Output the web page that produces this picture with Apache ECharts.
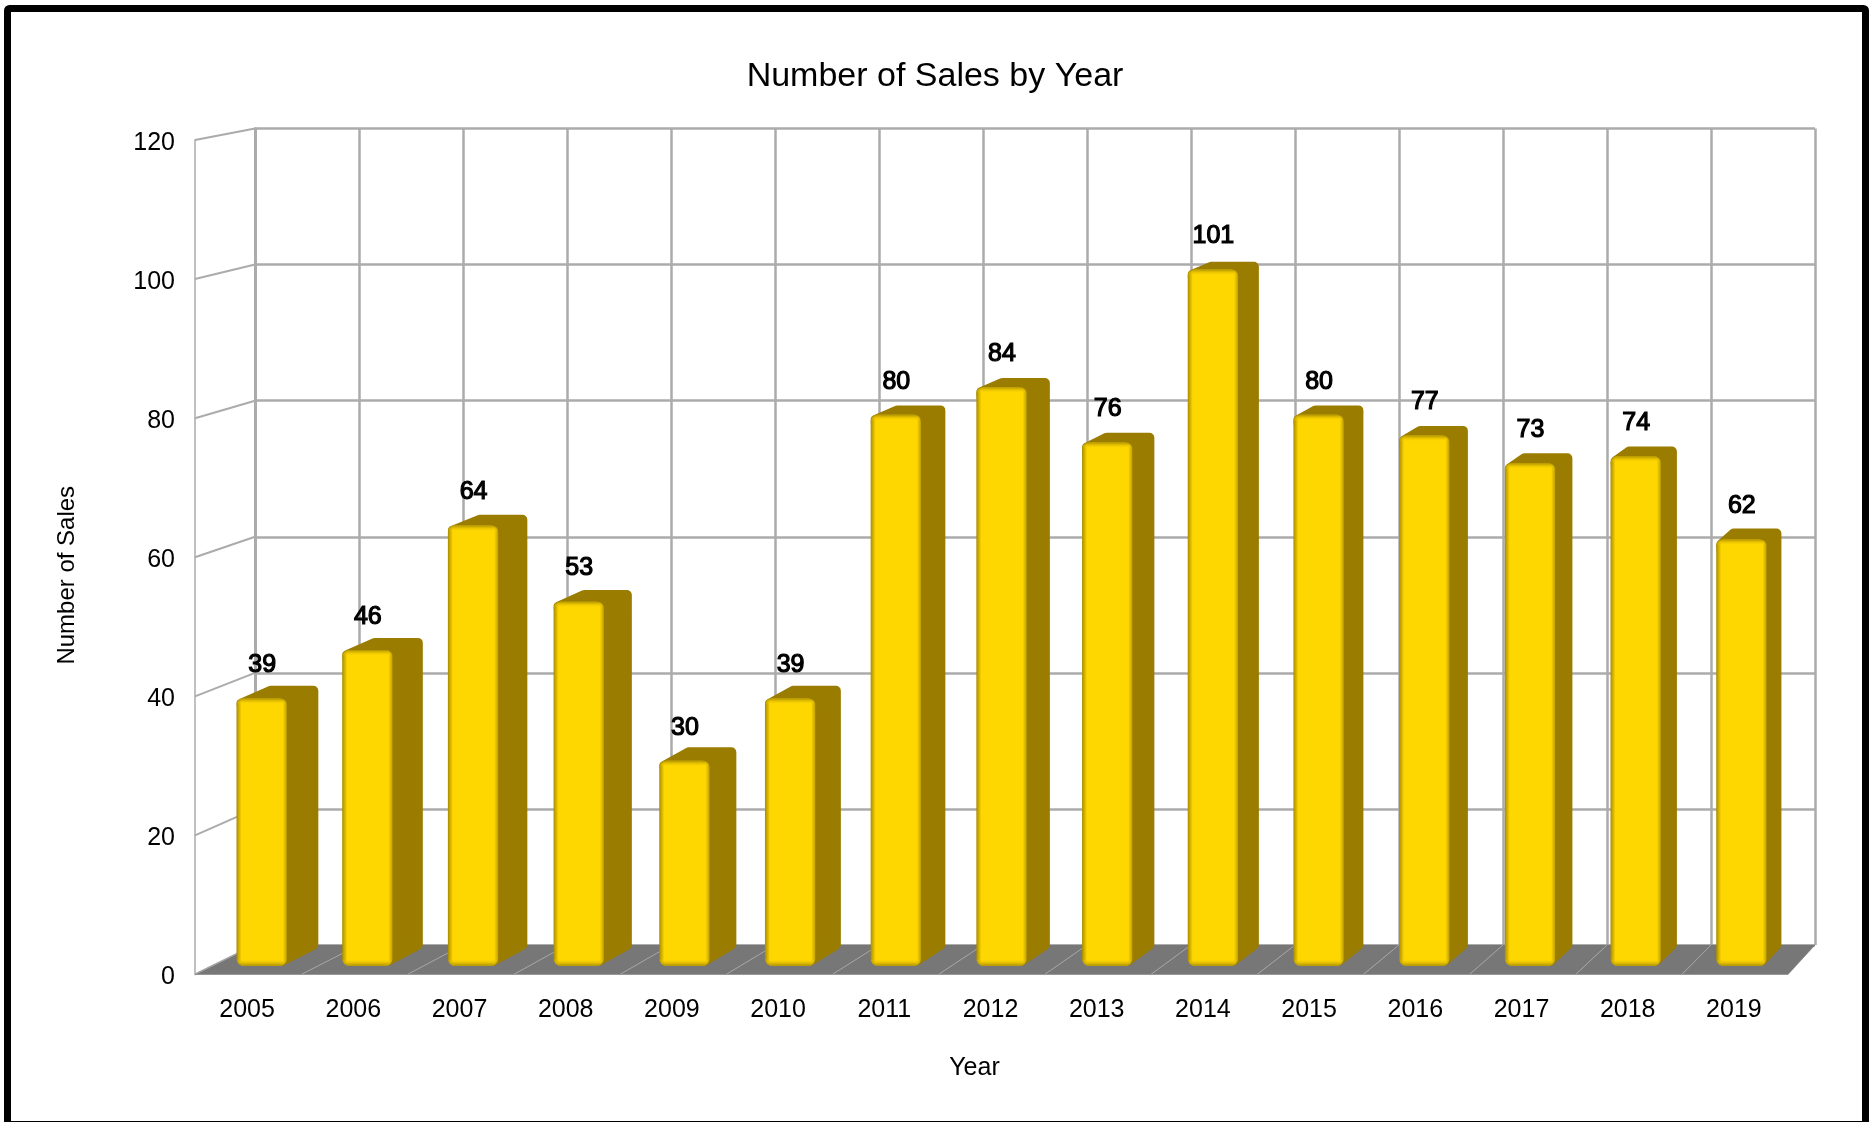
<!DOCTYPE html>
<html><head><meta charset="utf-8">
<style>html,body{margin:0;padding:0;background:#fff}#c{width:1869px;height:1122px}</style>
<script src="https://cdn.jsdelivr.net/npm/echarts@6/dist/echarts.min.js"></script>
</head><body><div id="c"></div>
<script>
const years = ['2005','2006','2007','2008','2009','2010','2011','2012','2013','2014','2015','2016','2017','2018','2019'];
const sales = [39,46,64,53,30,39,80,84,76,101,80,77,73,74,62];
const yTicks = [0,20,40,60,80,100,120];
const chartTitle = 'Number of Sales by Year';
const xName = 'Year';
const yName = 'Number of Sales';

const FONT = '"Liberation Sans", Arial, sans-serif';
const GRID_COLOR = '#ababab';
const DEPTH_NEAR = 0.23, DEPTH_FAR = 0.77, HALF_BAR = 0.238;
const TOP_INSET = 0.7, BOTTOM_INSET = 2;

const chart = echarts.init(document.getElementById('c'), null, {renderer:'canvas'});

function project(i, off, v, d){
  const f = a => chart.convertToPixel({xAxisIndex:0,yAxisIndex:0}, a);
  const b = a => chart.convertToPixel({xAxisIndex:1,yAxisIndex:1}, a);
  const f0 = f([i,v]), b0 = b([i,v]);
  const bandF = f([1,0])[0]-f([0,0])[0], bandB = b([1,0])[0]-b([0,0])[0];
  const fx = f0[0]+off*bandF, bx = b0[0]+off*bandB;
  return [fx+(bx-fx)*d, f0[1]+(b0[1]-f0[1])*d];
}
const shift = (p,dx,dy) => [p[0]+dx,p[1]+dy];
const grad = (x2,y2,stops) => ({type:'linear',x:0,y:0,x2,y2,colorStops:stops.map(s=>({offset:s[0],color:s[1]}))});

function renderFloor(params, api){
  const i = api.value(0);
  return {type:'polygon', shape:{points:[
      project(i,-0.5,0,0), project(i,0.5,0,0), project(i,0.5,0,1), project(i,-0.5,0,1)]},
    style:{fill:'#777777', stroke:'#777777', lineWidth:0.5}};
}
function renderFloorLine(params, api){
  const i = api.value(0);
  const a = project(i,-0.5,0,0), b = project(i,-0.5,0,1);
  return {type:'line', shape:{x1:a[0],y1:a[1],x2:b[0],y2:b[1]}, style:{stroke:'#a6a6a6', lineWidth:1}};
}
function renderSideWall(params, api){
  const v = api.value(1);
  const a = project(0,-0.5,v,0), b = project(0,-0.5,v,1);
  return {type:'line', shape:{x1:a[0],y1:a[1],x2:b[0],y2:b[1]}, style:{stroke:GRID_COLOR, lineWidth:2}};
}
function renderBar(params, api){
  const i = api.value(0), v = api.value(1);
  const nlt = shift(project(i,-HALF_BAR,v,DEPTH_NEAR),0,TOP_INSET), nrt = shift(project(i,HALF_BAR,v,DEPTH_NEAR),0,TOP_INSET);
  const nrb = shift(project(i,HALF_BAR,0,DEPTH_NEAR),0,-BOTTOM_INSET), nlb = shift(project(i,-HALF_BAR,0,DEPTH_NEAR),0,-BOTTOM_INSET);
  const flt = shift(project(i,-HALF_BAR,v,DEPTH_FAR),0,TOP_INSET), frt = shift(project(i,HALF_BAR,v,DEPTH_FAR),0,TOP_INSET);
  const frb = shift(project(i,HALF_BAR,0,DEPTH_FAR),0,-BOTTOM_INSET);
  const dark = '#9a7c00';
  const w = nrt[0]-nlt[0], h = nlb[1]-nlt[1];
  return {type:'group', children:[
    {type:'polygon', shape:{points:[shift(nlt,5,5),shift(flt,2,5),shift(frt,-5,5),shift(frb,-5,-5),shift(nrb,-5,-5)]},
      style:{fill:dark, stroke:dark, lineWidth:10, lineJoin:'round'}},
    {type:'rect', shape:{x:nlt[0],y:nlt[1],width:w,height:h,r:7},
      style:{fill:grad(1,0,[[0,'#a88c00'],[0.1,'#ffd700'],[0.92,'#ffd700'],[1,'#bfa000']])}},
    {type:'rect', shape:{x:nlt[0],y:nlt[1],width:w,height:6,r:[7,7,0,0]},
      style:{fill:grad(0,1,[[0,'rgba(168,140,0,0.9)'],[1,'rgba(255,215,0,0)']])}},
    {type:'rect', shape:{x:nlt[0],y:nlb[1]-7,width:w,height:7,r:[0,0,7,7]},
      style:{fill:grad(0,1,[[0,'rgba(255,215,0,0)'],[1,'rgba(168,140,0,0.95)']])}},
    {type:'text', style:{x:(nlt[0]+nrt[0])/2+0.5, y:nlt[1]-33.2, text:String(v), align:'center', verticalAlign:'middle',
      font:'25px '+FONT, fill:'#000', stroke:'#000', lineWidth:1.2,
      shadowColor:'rgba(0,0,0,0.4)', shadowOffsetX:1, shadowOffsetY:1, shadowBlur:1}}
  ]};
}

const base = {type:'custom', xAxisIndex:0, yAxisIndex:0, clip:false, silent:true, animation:false};
chart.setOption({
  animation:false,
  backgroundColor:'#ffffff',
  title:{text:chartTitle, left:930, top:72, textAlign:'center', textVerticalAlign:'middle',
    textStyle:{fontFamily:FONT,fontSize:34,fontWeight:'normal',color:'#000'}},
  graphic:[{type:'rect', z:100, silent:true,
    shape:{x:7.5,y:8.5,width:1858,height:1116,r:2},
    style:{fill:'none',stroke:'#000',lineWidth:7}}],
  grid:[
    {left:195, top:140, width:1593, height:834.5, containLabel:false},
    {left:255, top:128.5, width:1560, height:816.5, containLabel:false}
  ],
  xAxis:[
    {type:'category', gridIndex:0, data:years, boundaryGap:true,
     axisLine:{show:false}, axisTick:{show:false}, splitLine:{show:false},
     axisLabel:{interval:0, margin:23, padding:[0,2,0,0], fontFamily:FONT, fontSize:25, color:'#000'},
     name:xName, nameLocation:'middle', nameGap:81,
     nameTextStyle:{fontFamily:FONT,fontSize:25,color:'#000',padding:[0,34,0,0]}},
    {type:'category', gridIndex:1, data:years, boundaryGap:true,
     axisLine:{show:false}, axisTick:{show:false}, axisLabel:{show:false},
     splitLine:{show:true, interval:0, lineStyle:{color:GRID_COLOR,width:2.5}}}
  ],
  yAxis:[
    {type:'value', gridIndex:0, min:0, max:120, interval:20,
     axisLine:{show:true,lineStyle:{color:GRID_COLOR,width:1.5}}, axisTick:{show:false}, splitLine:{show:false},
     axisLabel:{margin:20, verticalAlign:'top', lineHeight:6, fontFamily:FONT, fontSize:25, color:'#000'},
     name:yName, nameLocation:'middle', nameGap:116, nameRotate:90,
     nameTextStyle:{fontFamily:FONT,fontSize:24,color:'#000',padding:[0,36,0,0]}},
    {type:'value', gridIndex:1, min:0, max:120, interval:20,
     axisLine:{show:true,lineStyle:{color:GRID_COLOR,width:3}}, axisTick:{show:false}, axisLabel:{show:false},
     splitLine:{show:true, lineStyle:{color:GRID_COLOR,width:2.5}}}
  ],
  series:[
    {...base, name:'sideWall', z:2, data:yTicks.map(v=>[0,v]), renderItem:renderSideWall},
    {...base, name:'floor', z:3, data:years.map((y,i)=>[i,0]), renderItem:renderFloor},
    {...base, name:'floorLines', z:4, data:years.map((y,i)=>[i,0]), renderItem:renderFloorLine},
    {...base, name:'Sales', z:5, data:sales.map((v,i)=>[i,v]), renderItem:renderBar}
  ]
});
</script></body></html>
